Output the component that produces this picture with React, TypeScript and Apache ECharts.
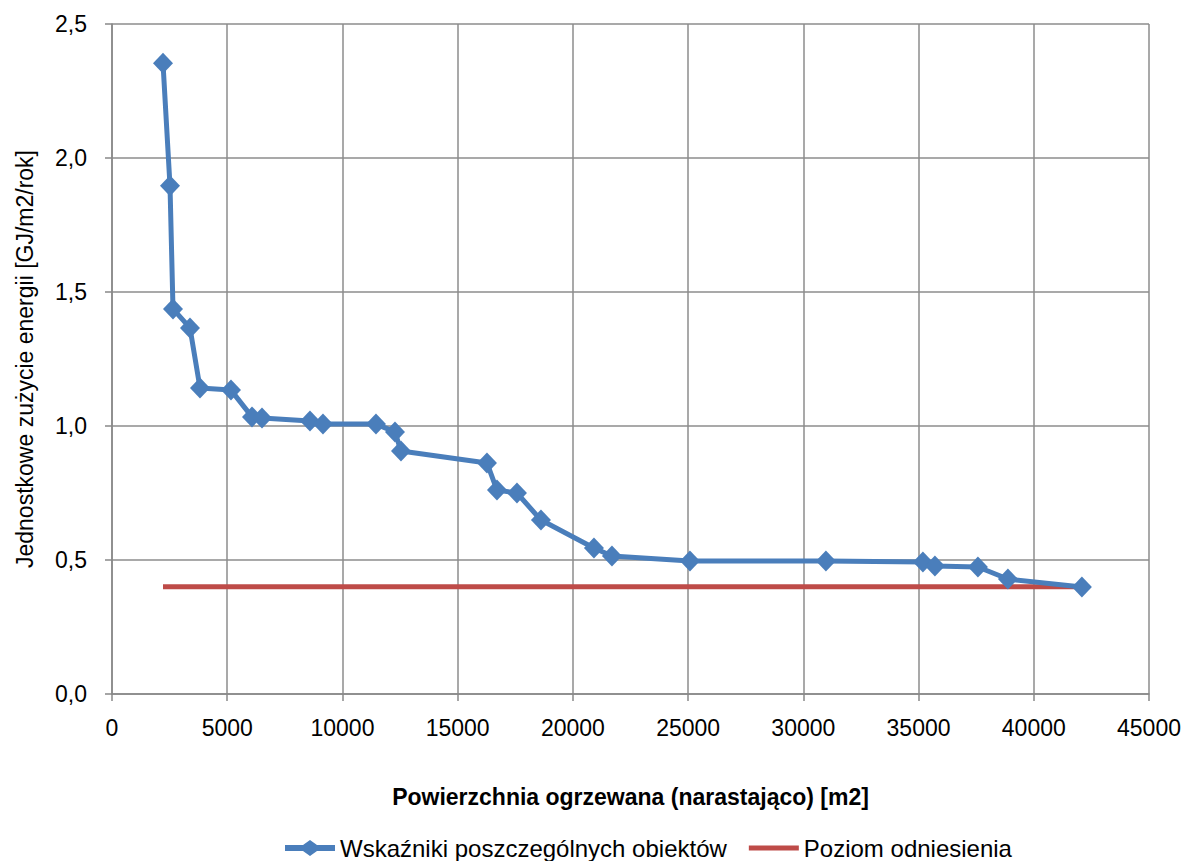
import React, { useEffect, useRef } from "react";
import * as echarts from "echarts";

const areaValues = [2213, 2517, 2647, 3384, 3818, 5163, 6075, 6509, 8591, 9155, 11455, 12280, 12540, 16271, 16705, 17573, 18614, 20914, 21695, 25079, 30980, 35189, 35710, 37576, 38877, 42088];
const indicatorValues = [2.354, 1.896, 1.437, 1.366, 1.142, 1.134, 1.034, 1.030, 1.019, 1.007, 1.007, 0.978, 0.907, 0.862, 0.761, 0.750, 0.649, 0.545, 0.515, 0.496, 0.496, 0.493, 0.478, 0.474, 0.429, 0.399];
const referenceX = [2213, 42088];
const referenceY = [0.4, 0.4];

const seriesNames = ["Wskaźniki poszczególnych obiektów", "Poziom odniesienia"];
const xAxisName = "Powierzchnia ogrzewana (narastająco) [m2]";
const yAxisName = "Jednostkowe zużycie energii [GJ/m2/rok]";

const FONT = "'Liberation Sans', Arial, sans-serif";

const BLUE_ICON = "path://M0,0L0.01,0L0.01,0.01ZM0,5L18,5L25,0L32,5L50,5L50,11L32,11L25,16L18,11L0,11Z";
const RED_ICON = "path://M0,0L0.01,0L0.01,0.01ZM50,16L49.99,16L49.99,15.99ZM0,5.5L50,5.5L50,10.5L0,10.5Z";

export default function App() {
  const ref = useRef<HTMLDivElement>(null);
  useEffect(() => {
    document.body.style.margin = "0";
    if (!ref.current) return;
    const chart = echarts.init(ref.current, null, { renderer: "svg" });
    chart.setOption({
      animation: false,
      backgroundColor: "#ffffff",
      textStyle: { fontFamily: FONT },
      grid: { left: 112, right: 40, top: 24, bottom: 167, containLabel: false },
      legend: {
        bottom: -4,
        left: 280,
        itemWidth: 50,
        itemHeight: 16,
        itemGap: 22,
        textStyle: { fontSize: 24, color: "#000", fontFamily: FONT },
        data: [
          { name: seriesNames[0], icon: BLUE_ICON },
          { name: seriesNames[1], icon: RED_ICON },
        ],
      },
      xAxis: {
        type: "value",
        min: 0,
        max: 45000,
        interval: 5000,
        name: xAxisName,
        nameLocation: "middle",
        nameGap: 91,
        nameTextStyle: { fontSize: 23, fontWeight: "bold", color: "#000", fontFamily: FONT },
        axisLine: { show: true, lineStyle: { color: "#888", width: 1.5 } },
        axisTick: { show: true, length: 7, lineStyle: { color: "#888", width: 1.5 } },
        axisLabel: { fontSize: 23, color: "#000", margin: 22, fontFamily: FONT, formatter: (v: number) => String(v) },
        splitLine: { show: true, lineStyle: { color: "#8c8c8c", width: 1.5 } },
      },
      yAxis: {
        type: "value",
        min: 0,
        max: 2.5,
        interval: 0.5,
        name: yAxisName,
        nameLocation: "middle",
        nameGap: 76,
        nameRotate: 90,
        nameTextStyle: { fontSize: 23, color: "#000", fontFamily: FONT },
        axisLine: { show: true, lineStyle: { color: "#888", width: 1.5 } },
        axisTick: { show: true, length: 7, lineStyle: { color: "#888", width: 1.5 } },
        axisLabel: {
          fontSize: 23,
          color: "#000",
          margin: 25,
          fontFamily: FONT,
          formatter: (v: number) => v.toFixed(1).replace(".", ","),
        },
        splitLine: { show: true, lineStyle: { color: "#8c8c8c", width: 1.5 } },
      },
      series: [
        {
          name: seriesNames[0],
          type: "line",
          data: areaValues.map((x, i) => [x, indicatorValues[i]]),
          symbol: "diamond",
          symbolSize: [20, 21],
          itemStyle: { color: "#4a7ebb" },
          lineStyle: { color: "#4a7ebb", width: 5 },
          z: 3,
        },
        {
          name: seriesNames[1],
          type: "line",
          data: referenceX.map((x, i) => [x, referenceY[i]]),
          symbol: "none",
          itemStyle: { color: "#be4b48" },
          lineStyle: { color: "#be4b48", width: 5 },
          z: 2,
        },
      ],
    });
    return () => chart.dispose();
  }, []);
  return <div ref={ref} style={{ width: 1189, height: 861 }} />;
}
